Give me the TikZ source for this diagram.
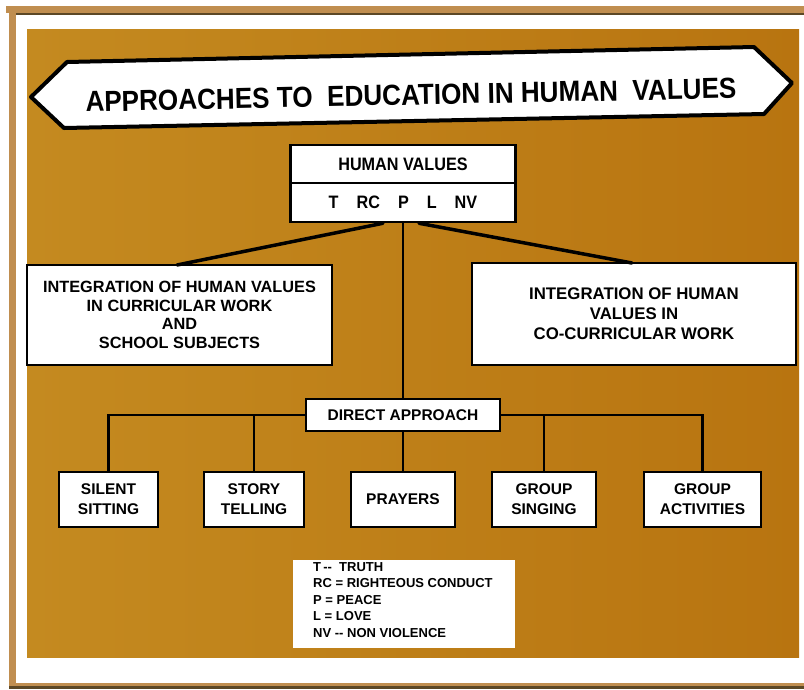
\documentclass[tikz,border=0pt]{standalone}
\usepackage{fontspec}
\setmainfont{Liberation Sans}
\newfontfamily\cond{Liberation Sans}[FakeStretch=0.9]
\newfontfamily\wide{Liberation Sans}
\usetikzlibrary{calc}
\definecolor{board}{RGB}{196,138,32}
\definecolor{boarddark}{RGB}{184,116,16}
\definecolor{frametan}{RGB}{192,142,80}
\definecolor{framedark}{RGB}{92,72,38}
\begin{document}
\begin{tikzpicture}[x=1pt,y=-1pt,
  box/.style={draw=black, fill=white, line width=2.5pt, inner sep=0pt, align=center},
  link/.style={line width=2.5pt, black},
  slant/.style={line width=3.5pt, black, line cap=round},
  smalltxt/.style={font=\wide\bfseries\fontsize{15.5}{20}\selectfont},
]
\useasboundingbox (0,0) rectangle (804,689);
\fill[white] (0,0) rectangle (804,689);
% frame
\fill[frametan] (6,6) rectangle (804,13);
\fill[framedark] (14,13) rectangle (804,15);
\fill[frametan] (9,13) rectangle (16,686);
\fill[frametan] (9,683) rectangle (804,686);
\fill[framedark] (9,686) rectangle (804,689);
% board
\shade[left color=board, right color=boarddark] (27,29) rectangle (799,657);

% title banner
\draw[line width=4pt, fill=white, line join=round] (31,97) -- (67,62) -- (754,47) -- (792,83) -- (764,114) -- (64,128) -- cycle;
\node[font=\cond\bfseries\fontsize{29}{32}\selectfont, rotate=1.2] (title) at (411,95) {APPROACHES TO\ \ EDUCATION IN HUMAN\ \ VALUES};

% human values
\node[box, minimum width=225, minimum height=38, font=\cond\bfseries\fontsize{18}{20}\selectfont] (hvA) at (403,164) {HUMAN VALUES};
\node[box, minimum width=225, minimum height=39, font=\cond\bfseries\fontsize{18}{20}\selectfont] (hvB) at (403,202.5) {T\ \ \ \ RC\ \ \ \ P\ \ \ \ L\ \ \ \ NV};

% integration boxes
\node[box, font=\wide\bfseries\fontsize{16.3}{18.5}\selectfont, minimum width=305, minimum height=100] (curr) at (179.5,315) {INTEGRATION OF HUMAN VALUES\\IN CURRICULAR WORK\\AND\\SCHOOL SUBJECTS};
\node[box, font=\wide\bfseries\fontsize{16.8}{20}\selectfont, minimum width=324, minimum height=102] (cocurr) at (634,314) {INTEGRATION OF HUMAN\\VALUES IN\\CO-CURRICULAR WORK};

\coordinate (lt) at (177,265);
\coordinate (rt) at (632,263);
\draw[slant] ([xshift=-20pt]hvB.south) -- (lt);
\draw[slant] ([xshift=16pt]hvB.south) -- (rt);

% direct approach
\node[box, smalltxt, minimum width=194, minimum height=32] (direct) at (403,415) {DIRECT APPROACH};
\draw[link] (hvB.south) -- (direct.north);

% methods
\node[box, smalltxt, minimum width=99, minimum height=55] (b1) at (108.5,499.5) {SILENT\\SITTING};
\node[box, smalltxt, minimum width=100, minimum height=55] (b2) at (254,499.5) {STORY\\TELLING};
\node[box, smalltxt, minimum width=104, minimum height=55] (b3) at (403,499.5) {PRAYERS};
\node[box, smalltxt, minimum width=104, minimum height=55] (b4) at (544,499.5) {GROUP\\SINGING};
\node[box, smalltxt, minimum width=117, minimum height=55] (b5) at (702.5,499.5) {GROUP\\ACTIVITIES};

\draw[link] (direct.west) -| (b1.north);
\draw[link] (direct.west -| b2.north) -- (b2.north);
\draw[link] (direct.south) -- (b3.north);
\draw[link] (direct.east) -| (b5.north);
\draw[link] (direct.east -| b4.north) -- (b4.north);

% legend
\node[fill=white, minimum width=222, minimum height=88, inner sep=0pt] (legend) at (404,604) {};
\node[anchor=north west, inner sep=0pt, align=left, font=\wide\bfseries\fontsize{13}{16.5}\selectfont] (legtext) at (313,562) {T\,--\ \ TRUTH\\RC = RIGHTEOUS CONDUCT\\P = PEACE\\L = LOVE\\NV -- NON VIOLENCE};
\end{tikzpicture}
\end{document}
